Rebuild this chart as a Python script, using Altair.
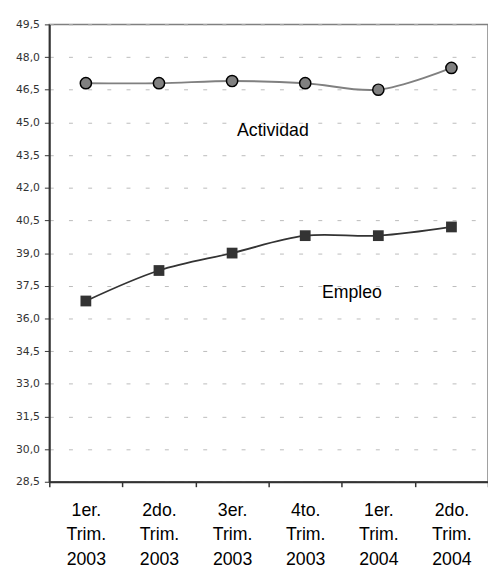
import altair as alt
import pandas as pd

categories = ["1er. Trim. 2003", "2do. Trim. 2003", "3er. Trim. 2003",
              "4to. Trim. 2003", "1er. Trim. 2004", "2do. Trim. 2004"]
actividad = [46.8, 46.8, 46.9, 46.8, 46.5, 47.5]
empleo = [36.8, 38.2, 39.0, 39.8, 39.8, 40.2]

label_names = ["Actividad", "Empleo"]
label_cats = ["3er. Trim. 2003", "4to. Trim. 2003"]
label_vals = [44.6, 37.15]

df_a = pd.DataFrame({"cat": categories, "val": actividad})
df_e = pd.DataFrame({"cat": categories, "val": empleo})
df_l = pd.DataFrame({"name": label_names, "cat": label_cats, "val": label_vals})

xs = alt.Scale(type="band", domain=categories, paddingInner=0, paddingOuter=0)
ys = alt.Scale(domain=[28.5, 49.5], nice=False, zero=False)

x_enc = alt.X("cat:N", scale=xs, sort=categories, axis=alt.Axis(
    title=None, labelAngle=0, tickBand="extent", grid=False,
    labelExpr="datum.value ? split(datum.value, ' ') : ''", labelLineHeight=25,
    labelFontSize=18, labelColor="#000", labelFont="Liberation Sans",
    labelPadding=15, labelOverlap=False, labelBound=False,
    domainColor="#333", domainWidth=2, tickColor="#333",
    tickSize=5, tickWidth=1.5, labelBaseline="top"))
y_enc = alt.Y("val:Q", scale=ys, axis=alt.Axis(
    title=None, values=[28.5 + 1.5 * i for i in range(15)], tickCount=15,
    labelExpr="replace(format(datum.value, '.1f'), '.', ',')",
    labelFontSize=11, labelColor="#333", labelFont="DejaVu Sans",
    labelOverlap=False, labelBound=False,
    labelPadding=5, domainColor="#333", domainWidth=2, tickColor="#333",
    tickSize=5, grid=True, gridColor="#bbbbbb", gridDash=[4, 15.5], gridWidth=1))

base_a = alt.Chart(df_a).encode(x=x_enc, y=y_enc)
line_a = base_a.mark_line(color="#808080", strokeWidth=2, interpolate="catmull-rom")
pts_a = base_a.mark_point(shape="circle", filled=True, fill="#808080", stroke="#000",
                          strokeWidth=1.5, size=130, opacity=1)

base_e = alt.Chart(df_e).encode(x=x_enc, y=y_enc)
line_e = base_e.mark_line(color="#333333", strokeWidth=1.8, interpolate="catmull-rom")
pts_e = base_e.mark_point(shape="square", filled=True, fill="#333333", size=120, opacity=1)

txt_a = alt.Chart(df_l.iloc[[0]]).mark_text(align="left", fontSize=18, font="Liberation Sans",
                                           color="#000", dx=5).encode(
    x=alt.X("cat:N", scale=xs, sort=categories), y=alt.Y("val:Q", scale=ys), text="name:N")
txt_e = alt.Chart(df_l.iloc[[1]]).mark_text(align="left", fontSize=18, font="Liberation Sans",
                                           color="#000", dx=17).encode(
    x=alt.X("cat:N", scale=xs, sort=categories), y=alt.Y("val:Q", scale=ys), text="name:N")

chart = alt.layer(line_a, line_e, pts_a, pts_e, txt_a, txt_e).properties(
    width=446, height=465,
    autosize=alt.AutoSizeParams(type="none"),
    padding={"left": 42, "top": 12, "right": 0, "bottom": 83},
).configure_view(stroke="#808080", strokeWidth=1.5)

chart.save("out.html", embed_options={"renderer": "svg", "actions": False})
